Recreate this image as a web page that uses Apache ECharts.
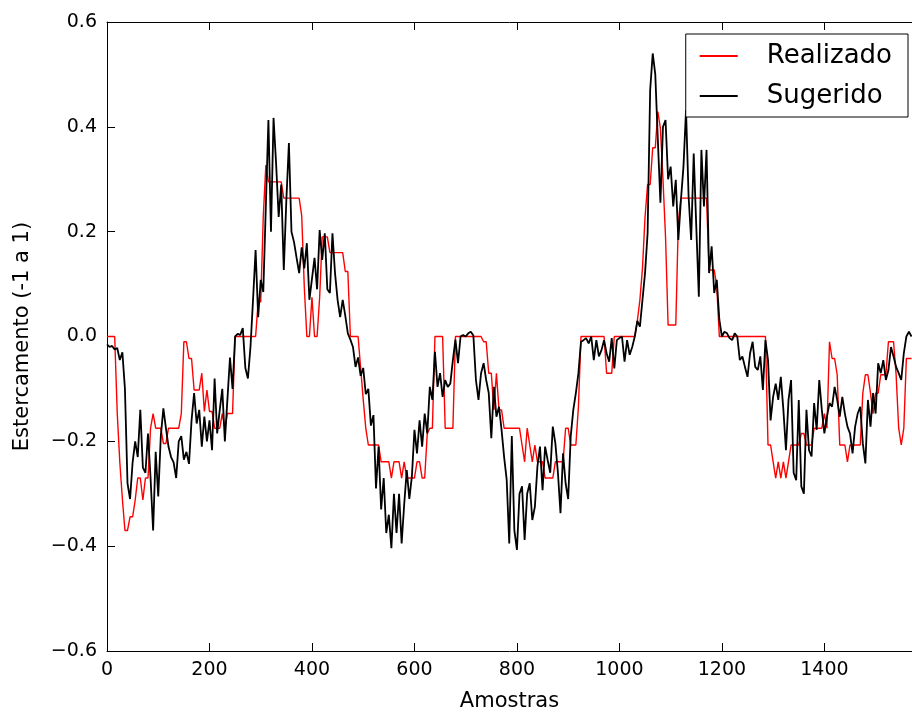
<!DOCTYPE html>
<html>
<head>
<meta charset="utf-8">
<script src="https://cdn.jsdelivr.net/npm/echarts@6/dist/echarts.min.js"></script>
<style>
  html, body { margin: 0; padding: 0; background: #fff; }
  #chart { width: 912px; height: 717px; }
</style>
</head>
<body>
<div id="chart"></div>
<script>
// samples are every 5 "amostras"
var STEP = 5;
var X_MAX = 1571;

// Realizado (red, step-like)
var realizado = [
    0, 0, 0, 0, -0.147, -0.24, -0.31, -0.37, -0.37, -0.344,
    -0.344, -0.312, -0.27, -0.27, -0.312, -0.27, -0.27, -0.175, -0.147, -0.175,
    -0.175, -0.175, -0.204, -0.204, -0.175, -0.175, -0.175, -0.175, -0.175, -0.147,
    -0.01, -0.01, -0.042, -0.042, -0.102, -0.102, -0.102, -0.07, -0.143, -0.102,
    -0.143, -0.143, -0.175, -0.175, -0.175, -0.147, -0.175, -0.147, -0.147, -0.147,
    0, 0, 0, 0, 0, 0, 0, 0, 0, 0.066,
    0.066, 0.23, 0.327, 0.295, 0.295, 0.295, 0.295, 0.295, 0.295, 0.264,
    0.264, 0.264, 0.264, 0.264, 0.264, 0.264, 0.23, 0.095, 0, 0,
    0.075, 0, 0, 0.075, 0.19, 0.19, 0.19, 0.16, 0.16, 0.16,
    0.16, 0.16, 0.16, 0.124, 0.124, 0, 0, 0, 0, -0.06,
    -0.12, -0.175, -0.207, -0.207, -0.207, -0.207, -0.207, -0.239, -0.239, -0.239,
    -0.239, -0.27, -0.239, -0.239, -0.239, -0.27, -0.239, -0.27, -0.27, -0.27,
    -0.27, -0.239, -0.239, -0.27, -0.27, -0.185, -0.175, -0.175, 0, 0,
    0, 0, -0.175, -0.175, -0.175, -0.175, 0, 0, 0, 0,
    0, 0, 0, 0, 0, 0, 0, -0.01, -0.01, -0.07,
    -0.07, -0.14, -0.07, -0.14, -0.14, -0.175, -0.175, -0.175, -0.175, -0.175,
    -0.175, -0.175, -0.207, -0.239, -0.175, -0.207, -0.239, -0.207, -0.239, -0.239,
    -0.239, -0.27, -0.27, -0.27, -0.27, -0.239, -0.239, -0.239, -0.239, -0.175,
    -0.175, -0.207, -0.207, -0.207, -0.134, 0, 0, 0, 0, 0,
    0, 0, 0, 0, 0, -0.07, -0.07, -0.07, 0, 0,
    0, 0, 0, 0, 0, 0, 0, 0.03, 0.07, 0.13,
    0.228, 0.29, 0.29, 0.36, 0.36, 0.429, 0.397, 0.3, 0.19, 0.022,
    0.022, 0.022, 0.022, 0.219, 0.264, 0.264, 0.264, 0.264, 0.264, 0.264,
    0.264, 0.264, 0.264, 0.264, 0.264, 0.127, 0.127, 0.127, 0.095, 0,
    0, 0, 0, 0, 0, 0, 0, 0, 0, 0,
    0, 0, 0, 0, 0, 0, 0, 0, -0.207, -0.207,
    -0.239, -0.27, -0.239, -0.27, -0.239, -0.27, -0.239, -0.207, -0.207, -0.207,
    -0.207, -0.185, -0.185, -0.207, -0.207, -0.207, -0.175, -0.175, -0.175, -0.175,
    -0.147, -0.175, -0.01, -0.042, -0.042, -0.073, -0.207, -0.207, -0.207, -0.239,
    -0.207, -0.207, -0.207, -0.207, -0.207, -0.108, -0.073, -0.073, -0.108, -0.147,
    -0.108, -0.108, -0.073, -0.073, -0.073, -0.01, -0.01, -0.01, -0.073, -0.175,
    -0.207, -0.175, -0.042, -0.042, -0.042
];

// Sugerido (black, noisy)
var sugerido = [
    -0.015, -0.02, -0.018, -0.025, -0.022, -0.045, -0.03, -0.1, -0.28, -0.31,
    -0.24, -0.2, -0.23, -0.14, -0.25, -0.26, -0.185, -0.27, -0.37, -0.22,
    -0.305, -0.19, -0.137, -0.175, -0.21, -0.23, -0.24, -0.27, -0.2, -0.19,
    -0.235, -0.22, -0.243, -0.16, -0.108, -0.166, -0.14, -0.21, -0.153, -0.2,
    -0.16, -0.217, -0.08, -0.185, -0.14, -0.1, -0.2, -0.12, -0.04, -0.1,
    0.0, 0.005, 0.003, 0.016, -0.06, -0.08, -0.02, 0.07, 0.165, 0.037,
    0.108, 0.085, 0.25, 0.413, 0.2, 0.417, 0.33, 0.228, 0.29, 0.127,
    0.26, 0.369, 0.2, 0.18, 0.15, 0.121, 0.17, 0.13, 0.178, 0.07,
    0.11, 0.15, 0.09, 0.203, 0.146, 0.197, 0.09, 0.083, 0.197, 0.121,
    0.07, 0.037, 0.07, 0.04, 0.006, -0.006, -0.02, -0.058, -0.04, -0.075,
    -0.06, -0.11, -0.1, -0.17, -0.15, -0.29, -0.21, -0.33, -0.27, -0.375,
    -0.34, -0.404, -0.3, -0.375, -0.3, -0.395, -0.32, -0.255, -0.31, -0.267,
    -0.178, -0.223, -0.16, -0.21, -0.147, -0.185, -0.096, -0.121, -0.029, -0.096,
    -0.07, -0.115, -0.083, -0.096, -0.09, -0.045, -0.006, -0.051, 0.0, 0.003,
    0.0, 0.006, 0.009, 0.002, -0.083, -0.121, -0.07, -0.051, -0.083, -0.108,
    -0.194, -0.096, -0.153, -0.134, -0.178, -0.23, -0.273, -0.395, -0.19, -0.37,
    -0.407, -0.3, -0.286, -0.388, -0.3, -0.28, -0.35, -0.325, -0.248, -0.21,
    -0.293, -0.21, -0.236, -0.26, -0.172, -0.204, -0.26, -0.337, -0.223, -0.28,
    -0.31, -0.19, -0.14, -0.108, -0.07, -0.01, -0.007, -0.003, -0.013, 0.0,
    -0.045, -0.007, -0.038, -0.026, -0.007, -0.032, -0.048, -0.003, -0.061, -0.007,
    -0.003, 0.0, -0.048, -0.007, -0.035, -0.02, 0.0, 0.03, 0.019, 0.07,
    0.121, 0.197, 0.47, 0.54, 0.5, 0.375, 0.255, 0.4, 0.413, 0.3,
    0.324, 0.248, 0.299, 0.184, 0.26, 0.324, 0.432, 0.267, 0.184, 0.349,
    0.21, 0.076, 0.356, 0.248, 0.356, 0.121, 0.172, 0.083, 0.108, 0.032,
    0.0, 0.009, 0.006, -0.003, -0.007, 0.006, 0.0, -0.045, -0.038, -0.058,
    -0.077, -0.032, -0.01, -0.058, -0.064, -0.038, -0.102, -0.007, -0.045, -0.16,
    -0.115, -0.09, -0.121, -0.077, -0.14, -0.217, -0.121, -0.083, -0.26, -0.274,
    -0.121, -0.286, -0.3, -0.14, -0.217, -0.229, -0.127, -0.178, -0.083, -0.14,
    -0.185, -0.153, -0.127, -0.134, -0.096, -0.121, -0.153, -0.115, -0.147, -0.172,
    -0.185, -0.223, -0.172, -0.147, -0.134, -0.204, -0.242, -0.121, -0.172, -0.108,
    -0.147, -0.051, -0.07, -0.045, -0.083, -0.064, -0.02, -0.038, -0.058, -0.07,
    -0.083, -0.032, 0.0, 0.009, 0.0
];

var seriesNames = ['Realizado', 'Sugerido'];
var seriesColors = ['#ff0000', '#000000'];

var FONT = 'DejaVu Sans';

function toPairs(arr) {
    var out = [];
    for (var i = 0; i < arr.length; i++) {
        out.push([i * STEP, arr[i]]);
    }
    return out;
}

function yLabel(v) {
    var r = Math.round(v * 10) / 10;
    return (r < 0 ? '\u2212' : '') + Math.abs(r).toFixed(1);
}

function xLabel(v) {
    return String(Math.round(v));
}

var chart = echarts.init(document.getElementById('chart'));
var option = {
    animation: false,
    backgroundColor: '#fff',
    color: seriesColors,
    grid: {
        left: 107,
        top: 22,
        right: 0,
        bottom: 66
    },
    legend: {
        orient: 'vertical',
        right: 4,
        top: 34,
        padding: [9, 16, 8, 14],
        itemGap: 14,
        itemWidth: 38,
        itemHeight: 2,
        icon: 'rect',
        borderColor: '#000',
        borderWidth: 1,
        borderRadius: 0,
        backgroundColor: '#fff',
        data: seriesNames,
        textStyle: {
            fontFamily: FONT,
            fontSize: 26,
            color: '#000',
            lineHeight: 25,
            padding: [0, 0, 0, 24]
        }
    },
    xAxis: [{
        type: 'value',
        position: 'bottom',
        min: 0,
        max: X_MAX,
        interval: 200,
        name: 'Amostras',
        nameLocation: 'middle',
        nameGap: 40,
        nameTextStyle: { fontFamily: FONT, fontSize: 21, color: '#000' },
        axisLine: { show: true, onZero: false, lineStyle: { color: '#000', width: 1 } },
        axisTick: { show: true, inside: true, length: 8, lineStyle: { color: '#000' } },
        axisLabel: {
            fontFamily: FONT, fontSize: 19, color: '#000', margin: 10,
            showMaxLabel: false,
            formatter: xLabel
        },
        splitLine: { show: false }
    }, {
        type: 'value',
        position: 'top',
        min: 0,
        max: X_MAX,
        interval: 200,
        axisLine: { show: true, onZero: false, lineStyle: { color: '#000', width: 1 } },
        axisTick: { show: true, inside: true, length: 8, lineStyle: { color: '#000' } },
        axisLabel: { show: false },
        splitLine: { show: false }
    }],
    yAxis: {
        type: 'value',
        min: -0.6,
        max: 0.6,
        interval: 0.2,
        name: 'Estercamento (-1 a 1)',
        nameLocation: 'middle',
        nameGap: 74,
        nameTextStyle: { fontFamily: FONT, fontSize: 21, color: '#000' },
        axisLine: { show: true, onZero: false, lineStyle: { color: '#000', width: 1 } },
        axisTick: { show: true, inside: true, length: 8, lineStyle: { color: '#000' } },
        axisLabel: {
            fontFamily: FONT, fontSize: 19, color: '#000', margin: 10,
            formatter: yLabel
        },
        splitLine: { show: false }
    },
    series: [{
        name: seriesNames[0],
        type: 'line',
        showSymbol: false,
        symbol: 'none',
        data: toPairs(realizado),
        lineStyle: { color: seriesColors[0], width: 1.4 },
        itemStyle: { color: seriesColors[0] },
        z: 2
    }, {
        name: seriesNames[1],
        type: 'line',
        showSymbol: false,
        symbol: 'none',
        data: toPairs(sugerido),
        lineStyle: { color: seriesColors[1], width: 1.8 },
        itemStyle: { color: seriesColors[1] },
        z: 3
    }]
};
chart.setOption(option);
window.addEventListener('resize', chart.resize);
</script>
</body>
</html>
